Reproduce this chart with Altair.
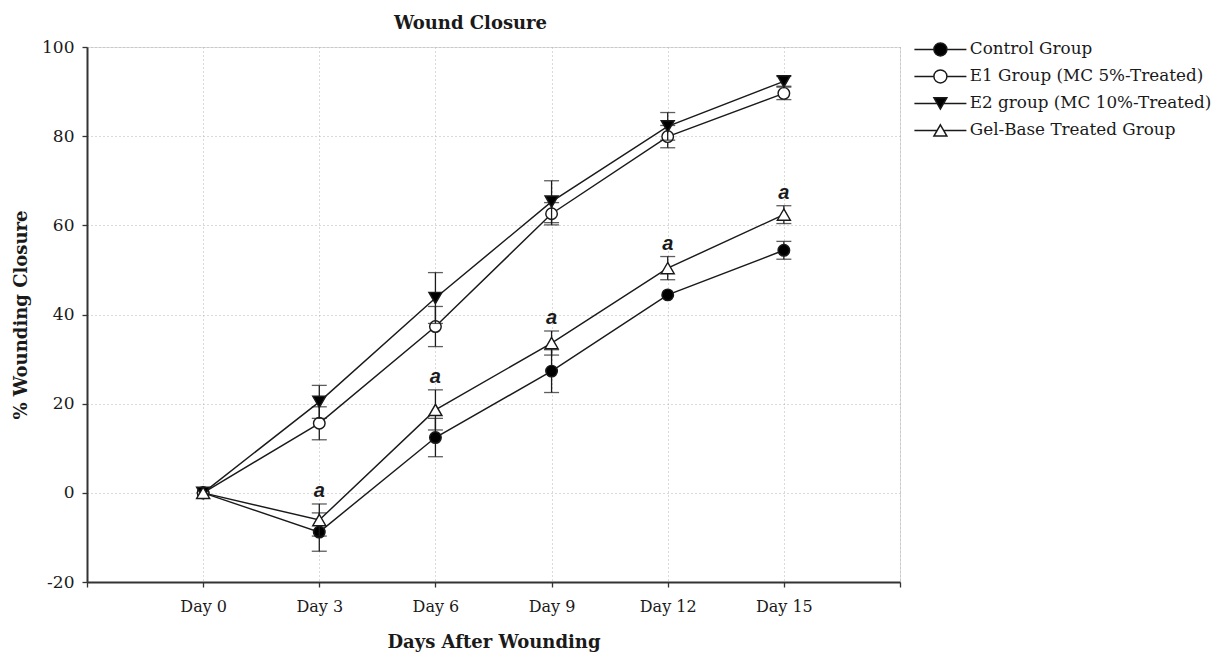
import altair as alt
import pandas as pd

# ---------------- data ----------------
days = [0, 3, 6, 9, 12, 15]
series_names = [
    "Control Group",
    "E1 Group (MC 5%-Treated)",
    "E2 group (MC 10%-Treated)",
    "Gel-Base Treated Group",
]
control_mean = [0, -8.8, 12.4, 27.3, 44.4, 54.4]
control_sd = [0, 4.3, 4.3, 4.8, 0, 2.0]
e1_mean = [0, 15.6, 37.3, 62.6, 79.9, 89.6]
e1_sd = [0, 3.7, 4.5, 2.5, 2.5, 1.4]
e2_mean = [0, 20.4, 43.7, 65.3, 82.2, 92.3]
e2_sd = [0, 3.7, 5.7, 4.7, 3.1, 1.1]
gel_mean = [0, -6.1, 18.6, 33.6, 50.4, 62.4]
gel_sd = [0, 3.6, 4.5, 2.7, 2.6, 2.0]
sig_days = [3, 6, 9, 12, 15]
sig_label = "a"

x_ticks = [-3, 0, 3, 6, 9, 12, 15, 18]
y_ticks = [-20, 0, 20, 40, 60, 80, 100]

means = [control_mean, e1_mean, e2_mean, gel_mean]
sds = [control_sd, e1_sd, e2_sd, gel_sd]

rows = []
for name, ms, ss in zip(series_names, means, sds):
    for d, m, s in zip(days, ms, ss):
        rows.append({"series": name, "day": d, "mean": m, "lo": m - s, "hi": m + s, "sd": s})
df = pd.DataFrame(rows)
df["sig"] = [
    sig_label if (r.series == series_names[3] and r.day in sig_days) else ""
    for r in df.itertuples()
]

# ---------------- style ----------------
INK = "#1a1a1a"
AX = "#333333"
GRID = "#b5b5b5"
SERIF = "DejaVu Serif"
LW = 1.45

x_axis = alt.Axis(
    values=x_ticks,
    labelExpr="datum.value >= 0 && datum.value <= 15 ? 'Day ' + datum.value : ''",
    title="Days After Wounding",
    titleFont=SERIF, titleFontSize=18, titleFontWeight="bold", titleColor=INK,
    titlePadding=19,
    labelFont=SERIF, labelFontSize=16, labelColor=INK, labelPadding=11,
    domainColor=AX, domainWidth=2, tickColor=AX, tickWidth=1.3, tickSize=5,
    grid=True, gridColor=GRID, gridDash=[1, 3], gridWidth=1,
)
y_axis = alt.Axis(
    values=y_ticks,
    labelExpr="'' + datum.value",
    title="% Wounding Closure",
    titleFont=SERIF, titleFontSize=18, titleFontWeight="bold", titleColor=INK,
    titlePadding=11,
    labelFont=SERIF, labelFontSize=17, labelColor=INK, labelPadding=8,
    domainColor=AX, domainWidth=2, tickColor=AX, tickWidth=1.3, tickSize=5,
    grid=True, gridColor=GRID, gridDash=[1, 3], gridWidth=1,
)
X = alt.X("day:Q", scale=alt.Scale(domain=[-3, 18], nice=False, zero=False), axis=x_axis)
Y_SCALE = alt.Scale(domain=[-20, 100], nice=False, zero=False)
Y = alt.Y("mean:Q", scale=Y_SCALE, axis=y_axis)

plot_shapes = ["circle", "circle", "triangle-down", "triangle-up"]
fills = ["black", "white", "black", "white"]
strokes = [INK, INK, INK, INK]
legend_shapes = [
    "M-4,0H-1M1,0H4M1,0A1,1,0,1,1,-1,0A1,1,0,1,1,1,0Z",
    "M-4,0H-1M1,0H4M1,0A1,1,0,1,1,-1,0A1,1,0,1,1,1,0Z",
    "M-4,0H-0.5M0.5,0H4M0,0.866L-1,-0.866L1,-0.866Z",
    "M-4,0H-0.5M0.5,0H4M0,-0.866L1,0.866L-1,0.866Z",
]

base = alt.Chart(df)
layers = []
for i, name in enumerate(series_names):
    sub = base.transform_filter(alt.datum.series == name)
    line = sub.mark_line(color=INK, strokeWidth=LW).encode(x=X, y=Y)
    err = sub.transform_filter(alt.datum.sd > 0)
    rule = err.mark_rule(color=INK, strokeWidth=1.3).encode(
        x=X, y=alt.Y("lo:Q", scale=Y_SCALE, axis=y_axis), y2="hi:Q"
    )
    cap_lo = err.mark_tick(color=INK, thickness=1.3, size=15, orient="horizontal").encode(
        x=X, y=alt.Y("lo:Q", scale=Y_SCALE, axis=y_axis)
    )
    cap_hi = err.mark_tick(color=INK, thickness=1.3, size=15, orient="horizontal").encode(
        x=X, y=alt.Y("hi:Q", scale=Y_SCALE, axis=y_axis)
    )
    pts = sub.mark_point(
        filled=False, stroke=INK, strokeWidth=LW, opacity=1,
        size=133 if plot_shapes[i] == "circle" else 169,
    ).encode(
        x=X, y=Y,
        shape=alt.Shape("series:N", scale=alt.Scale(domain=series_names, range=plot_shapes), legend=None),
        fill=alt.Fill("series:N", scale=alt.Scale(domain=series_names, range=fills), legend=None),
    )
    layers += [line, rule, cap_lo, cap_hi, pts]

sig = base.transform_filter(alt.datum.sig != "").mark_text(
    font="Liberation Sans", fontSize=20, fontWeight="bold", fontStyle="italic",
    color=INK, baseline="middle", align="center", dy=-13,
).encode(x=X, y=alt.Y("hi:Q", scale=Y_SCALE, axis=y_axis), text="sig:N")
layers.append(sig)

leg = alt.Legend(
    title=None, orient="none", legendX=845, legendY=-6, padding=0,
    symbolSize=169, symbolStrokeWidth=LW, symbolStrokeColor=INK, symbolOpacity=1,
    labelFont=SERIF, labelFontSize=16.8, labelColor=INK, labelOffset=21,
    labelLimit=0, rowPadding=8,
)
# legend-only layer: no rows reach the plot, entries come from the scale domain
legend_layer = base.transform_filter("false").mark_point(
    filled=False, strokeWidth=LW, opacity=1, size=169
).encode(
    x=X, y=Y,
    shape=alt.Shape("series:N", scale=alt.Scale(domain=series_names, range=legend_shapes), legend=leg),
    fill=alt.Fill("series:N", scale=alt.Scale(domain=series_names, range=fills), legend=leg),
    stroke=alt.Stroke("series:N", scale=alt.Scale(domain=series_names, range=strokes), legend=leg),
)
layers.append(legend_layer)

chart = (
    alt.layer(*layers)
    .resolve_scale(shape="independent", fill="independent", stroke="independent")
    .properties(
        width=813, height=535,
        autosize=alt.AutoSizeParams(type="none"),
        padding={"left": 79, "top": 39, "right": 312, "bottom": 72},
        title=alt.TitleParams(
            "Wound Closure", font=SERIF, fontSize=18, fontWeight="bold", color=INK,
            anchor="middle", dx=-23, offset=5,
        ),
    )
    .configure_view(stroke=None)
    .configure(background="white")
)

chart.save("out.html", embed_options={"renderer": "svg", "actions": False})
